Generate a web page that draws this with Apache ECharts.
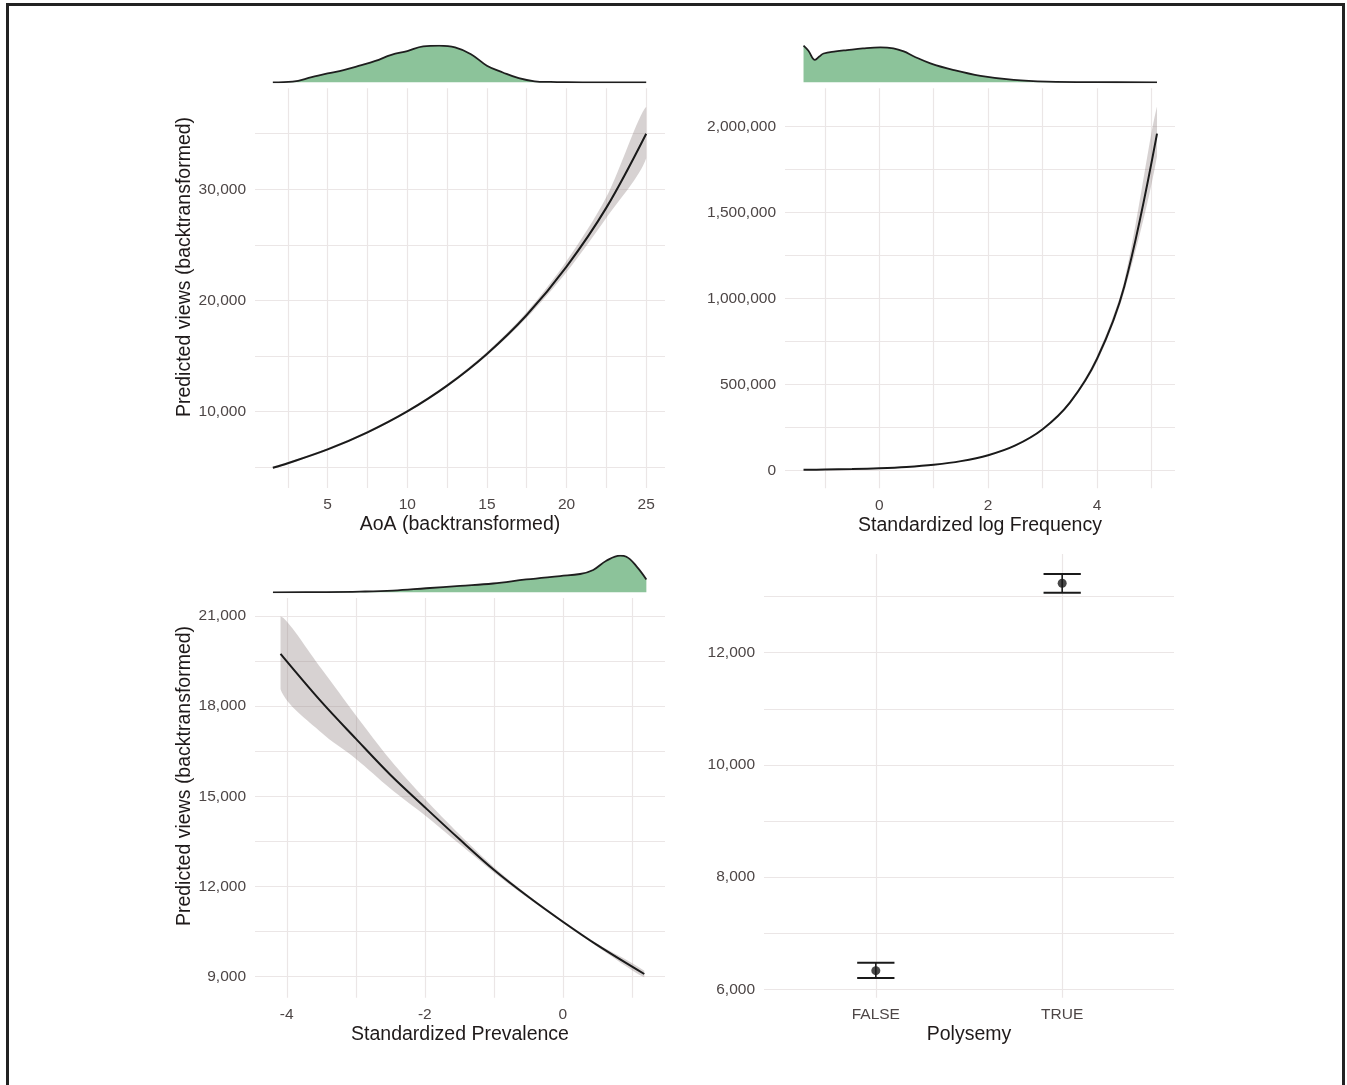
<!DOCTYPE html>
<html>
<head>
<meta charset="utf-8">
<title>Predicted views</title>
<script src="https://cdn.jsdelivr.net/npm/echarts@6/dist/echarts.min.js"></script>
<style>
  html, body { margin: 0; padding: 0; background: #fff; overflow: hidden; }
  #frame { position: absolute; left: 6px; top: 3px; width: 1339px; height: 1100px; border: 3px solid #222; box-sizing: border-box; }
  #main { position: absolute; left: 0; top: 0; width: 1347px; height: 1085px; }
</style>
</head>
<body>
<div id="frame"></div>
<div id="main"></div>
<script>
// ---- data ----
// AoA panel
var aoaX = [1.56, 2.5, 5, 7.5, 10, 12.5, 15, 17.5, 20, 22.5, 25];
var aoaPred = [4960, 5370, 6610, 8150, 10030, 12350, 15200, 18700, 23050, 28350, 35000];
var aoaUpper = [5050, 5460, 6710, 8260, 10140, 12470, 15360, 18960, 23550, 29300, 37430];
var aoaLower = [4870, 5280, 6510, 8040, 9920, 12230, 15040, 18440, 22560, 27450, 32800];
var aoaDensX = [1.56, 2.8, 4, 5, 6, 7, 8, 9, 10, 11, 12, 13, 14, 15, 16, 17, 18, 19, 20, 22, 25];
var aoaDens = [0, 0.002, 0.015, 0.026, 0.036, 0.049, 0.063, 0.081, 0.092, 0.106, 0.108, 0.103, 0.083, 0.049, 0.029, 0.012, 0.003, 0.001, 0.0003, 0, 0];
var aoaXTicks = [5, 10, 15, 20, 25];
var aoaYTicks = [10000, 20000, 30000];
var aoaXGrid = [2.5, 5, 7.5, 10, 12.5, 15, 17.5, 20, 22.5, 25];
var aoaYGrid = [5000, 10000, 15000, 20000, 25000, 30000, 35000];

// log frequency panel
var freqX = [-1.39, -1, -0.5, 0, 0.5, 1, 1.5, 2, 2.5, 3, 3.5, 4, 4.5, 5.1];
var freqPred = [2950, 4400, 7200, 11900, 19600, 32400, 53400, 88000, 145000, 239000, 394000, 650000, 1072000, 1960000];
var freqUpper = [3040, 4520, 7380, 12080, 19880, 32800, 54100, 89200, 147200, 243000, 402000, 668000, 1103000, 2118000];
var freqLower = [2860, 4280, 7020, 11720, 19320, 32000, 52700, 86800, 142800, 235000, 386000, 632000, 1041000, 1830000];
var freqDensX = [-1.39, -1.3, -1.18, -1.1, -1.02, -0.8, -0.59, -0.3, 0.02, 0.26, 0.45, 0.63, 0.94, 1.37, 1.86, 2.47, 3.08, 4, 5.1];
var freqDens = [0.108, 0.093, 0.066, 0.076, 0.085, 0.091, 0.095, 0.1, 0.103, 0.1, 0.091, 0.077, 0.056, 0.036, 0.019, 0.007, 0.002, 0.0003, 0];
var freqXTicks = [0, 2, 4];
var freqYTicks = [0, 500000, 1000000, 1500000, 2000000];
var freqXGrid = [-1, 0, 1, 2, 3, 4, 5];
var freqYGrid = [0, 250000, 500000, 750000, 1000000, 1250000, 1500000, 1750000, 2000000];

// prevalence panel
var prevX = [-4.09, -3.5, -3, -2.5, -2, -1.5, -1, -0.5, 0, 0.5, 1.18];
var prevPred = [19740, 18150, 16920, 15720, 14640, 13580, 12560, 11660, 10830, 10050, 9090];
var prevUpper = [20980, 19250, 17700, 16220, 14920, 13740, 12650, 11710, 10870, 10100, 9200];
var prevLower = [18560, 17120, 16250, 15260, 14370, 13420, 12470, 11610, 10790, 10000, 8980];
var prevDensX = [-4.2, -3.5, -2.94, -2.46, -1.98, -1.49, -1.01, -0.53, -0.04, 0.25, 0.44, 0.63, 0.83, 0.92, 1.07, 1.21];
var prevDens = [0, 0.0006, 0.002, 0.005, 0.012, 0.019, 0.026, 0.038, 0.048, 0.054, 0.066, 0.093, 0.108, 0.105, 0.076, 0.038];
var prevXTicks = [-4, -2, 0];
var prevYTicks = [9000, 12000, 15000, 18000, 21000];
var prevXGrid = [-4, -3, -2, -1, 0, 1];
var prevYGrid = [9000, 10500, 12000, 13500, 15000, 16500, 18000, 19500, 21000];

// polysemy panel
var polyCats = ['FALSE', 'TRUE'];
var polyX = [1, 2];
var polyMean = [6332, 13237];
var polyLow = [6201, 13070];
var polyHigh = [6474, 13403];
var polyYTicks = [6000, 8000, 10000, 12000];
var polyYGrid = [6000, 7000, 8000, 9000, 10000, 11000, 12000, 13000];

// ---- styling ----
var FONT = 'Liberation Sans, Arial, sans-serif';
var TICK_COLOR = '#4d4646';
var TITLE_COLOR = '#1f1a1a';
var GRID_COLOR = '#ebe6e6';
var BAND_COLOR = 'rgba(140,125,125,0.35)';
var DENS_FILL = '#8cc39a';

function pairs(xs, ys) {
    return xs.map(function (x, i) { return [x, ys[i]]; });
}
function comma(v) { return v.toLocaleString('en-US'); }
function plain(v) { return String(v); }
// only label the values ggplot labelled
function only(ticks, fmt) {
    return function (v) {
        for (var i = 0; i < ticks.length; i++) {
            if (Math.abs(ticks[i] - v) < 1e-6) return fmt(v, i);
        }
        return '';
    };
}

function gridLines(xs, ys) {
    var data = [];
    xs.forEach(function (v) { data.push({ xAxis: v }); });
    ys.forEach(function (v) { data.push({ yAxis: v }); });
    return {
        silent: true, symbol: 'none', z: 1, animation: false,
        label: { show: false },
        lineStyle: { color: GRID_COLOR, width: 1.2, type: 'solid' },
        emphasis: { disabled: true },
        data: data
    };
}

function xMain(grid, min, max, name, ticks, fmt) {
    return {
        type: 'value', gridIndex: grid, min: min, max: max,
        name: name, nameLocation: 'middle', nameGap: 27, nameMoveOverlap: false,
        nameTextStyle: { fontFamily: FONT, fontSize: 19.5, color: TITLE_COLOR },
        axisLine: { show: false }, axisTick: { show: false }, splitLine: { show: false },
        axisLabel: { margin: 9, fontFamily: FONT, fontSize: 15.5, color: TICK_COLOR, formatter: only(ticks, fmt) }
    };
}
function yMain(grid, min, max, ticks) {
    return {
        type: 'value', gridIndex: grid, min: min, max: max,
        axisLine: { show: false }, axisTick: { show: false }, splitLine: { show: false },
        axisLabel: { margin: 9, fontFamily: FONT, fontSize: 15.5, color: TICK_COLOR, formatter: only(ticks, comma) }
    };
}
function xHidden(grid, min, max) {
    return { type: 'value', gridIndex: grid, min: min, max: max, show: false, splitLine: { show: false } };
}
function yHidden(grid) {
    return { type: 'value', gridIndex: grid, min: 0, max: 'dataMax', show: false, splitLine: { show: false } };
}

// confidence ribbon: one polygon through upper then lower bounds
function band(axis, xs, lo, hi) {
    return {
        type: 'custom', xAxisIndex: axis, yAxisIndex: axis, z: 2, silent: true,
        data: [[xs[0], lo[0]]],
        renderItem: function (params, api) {
            var top = xs.map(function (x, i) { return api.coord([x, hi[i]]); });
            var bot = xs.map(function (x, i) { return api.coord([x, lo[i]]); }).reverse();
            return {
                type: 'polygon',
                shape: { points: top.concat(bot), smooth: 0.3, smoothConstraint: [top[0], top[0]] },
                style: { fill: BAND_COLOR }
            };
        }
    };
}
function curve(axis, xs, ys, grid) {
    return {
        type: 'line', xAxisIndex: axis, yAxisIndex: axis, z: 3, silent: true,
        data: pairs(xs, ys), showSymbol: false, smooth: 0.35,
        lineStyle: { color: '#1a1a1a', width: 2 },
        markLine: grid
    };
}
function density(axis, xs, ys) {
    return {
        type: 'line', xAxisIndex: axis, yAxisIndex: axis, z: 3, silent: true,
        data: pairs(xs, ys), showSymbol: false, smooth: 0.4,
        lineStyle: { color: '#1e1e1e', width: 1.8 },
        areaStyle: { color: DENS_FILL, opacity: 1 }
    };
}

var myChart = echarts.init(document.getElementById('main'), null, { renderer: 'canvas' });

myChart.setOption({
    animation: false,
    backgroundColor: 'transparent',
    grid: [
        { left: 255, top: 88.3, width: 410, height: 399.7, containLabel: false, outerBoundsMode: 'none' },
        { left: 255, top: 45.7, width: 410, height: 36.6, containLabel: false, outerBoundsMode: 'none' },
        { left: 785, top: 88.3, width: 390, height: 400, containLabel: false, outerBoundsMode: 'none' },
        { left: 785, top: 45.7, width: 390, height: 36.6, containLabel: false, outerBoundsMode: 'none' },
        { left: 255, top: 598, width: 410, height: 399.7, containLabel: false, outerBoundsMode: 'none' },
        { left: 255, top: 555.7, width: 410, height: 36.6, containLabel: false, outerBoundsMode: 'none' },
        { left: 764, top: 554, width: 410, height: 443.7, containLabel: false, outerBoundsMode: 'none' }
    ],
    xAxis: [
        xMain(0, 0.44, 26.18, 'AoA (backtransformed)', aoaXTicks, plain),
        xHidden(1, 0.44, 26.18),
        xMain(2, -1.73, 5.43, 'Standardized log Frequency', freqXTicks, plain),
        xHidden(3, -1.73, 5.43),
        xMain(4, -4.46, 1.48, 'Standardized Prevalence', prevXTicks, plain),
        xHidden(5, -4.46, 1.48),
        xMain(6, 0.4, 2.6, 'Polysemy', polyX, function (v, i) { return polyCats[i]; })
    ],
    yAxis: [
        yMain(0, 3140, 39080, aoaYTicks),
        yHidden(1),
        yMain(2, -104800, 2223600, freqYTicks),
        yHidden(3),
        yMain(4, 8302, 21598, prevYTicks),
        yHidden(5),
        yMain(6, 5850, 13759, polyYTicks)
    ],
    graphic: [
        {
            type: 'text', x: 184.5, y: 267, rotation: Math.PI / 2, silent: true,
            style: { text: 'Predicted views (backtransformed)', fontFamily: FONT, fontSize: 19.5, fill: TITLE_COLOR, align: 'center', verticalAlign: 'middle' }
        },
        {
            type: 'text', x: 184.5, y: 776, rotation: Math.PI / 2, silent: true,
            style: { text: 'Predicted views (backtransformed)', fontFamily: FONT, fontSize: 19.5, fill: TITLE_COLOR, align: 'center', verticalAlign: 'middle' }
        }
    ],
    series: [
        // AoA
        band(0, aoaX, aoaLower, aoaUpper),
        curve(0, aoaX, aoaPred, gridLines(aoaXGrid, aoaYGrid)),
        density(1, aoaDensX, aoaDens),
        // frequency
        band(2, freqX, freqLower, freqUpper),
        curve(2, freqX, freqPred, gridLines(freqXGrid, freqYGrid)),
        density(3, freqDensX, freqDens),
        // prevalence
        band(4, prevX, prevLower, prevUpper),
        curve(4, prevX, prevPred, gridLines(prevXGrid, prevYGrid)),
        density(5, prevDensX, prevDens),
        // polysemy: error bars + points
        {
            type: 'custom', xAxisIndex: 6, yAxisIndex: 6, z: 3, silent: true,
            data: polyX.map(function (x, i) { return [x, polyLow[i], polyHigh[i]]; }),
            renderItem: function (params, api) {
                var x = api.value(0), lo = api.value(1), hi = api.value(2);
                var pLo = api.coord([x, lo]), pHi = api.coord([x, hi]);
                var l1 = api.coord([x - 0.1, lo]), r1 = api.coord([x + 0.1, lo]);
                var l2 = api.coord([x - 0.1, hi]), r2 = api.coord([x + 0.1, hi]);
                var st = { stroke: '#1a1a1a', lineWidth: 2 };
                return {
                    type: 'group',
                    children: [
                        { type: 'line', shape: { x1: pLo[0], y1: pLo[1], x2: pHi[0], y2: pHi[1] }, style: { stroke: '#1a1a1a', lineWidth: 1.6 } },
                        { type: 'line', shape: { x1: l1[0], y1: l1[1], x2: r1[0], y2: r1[1] }, style: st },
                        { type: 'line', shape: { x1: l2[0], y1: l2[1], x2: r2[0], y2: r2[1] }, style: st }
                    ]
                };
            }
        },
        {
            type: 'scatter', xAxisIndex: 6, yAxisIndex: 6, z: 4, silent: true,
            data: pairs(polyX, polyMean), symbol: 'circle', symbolSize: 9,
            itemStyle: { color: '#1a1a1a' },
            markLine: gridLines(polyX, polyYGrid)
        }
    ]
});
</script>
</body>
</html>
